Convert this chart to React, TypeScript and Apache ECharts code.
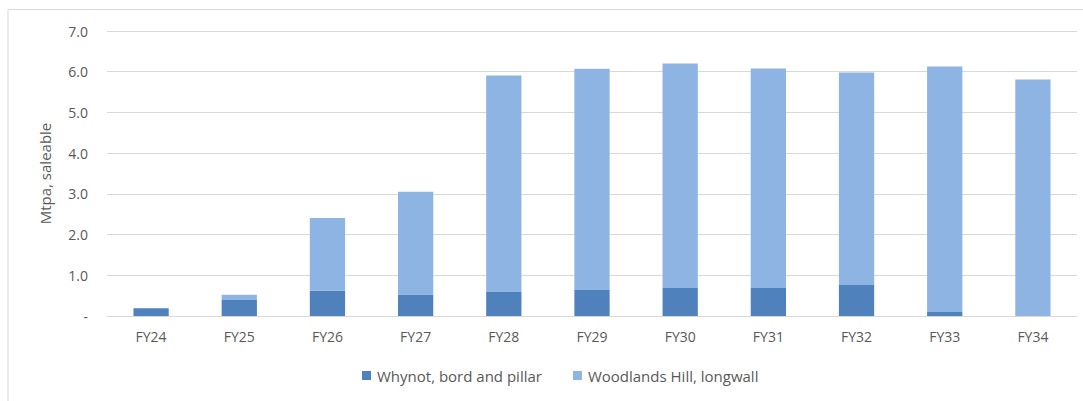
import React, { useEffect, useRef } from "react";
import * as echarts from "echarts";

const categories = ["FY24", "FY25", "FY26", "FY27", "FY28", "FY29", "FY30", "FY31", "FY32", "FY33", "FY34"];
const whynot = [0.19, 0.39, 0.62, 0.53, 0.59, 0.64, 0.69, 0.69, 0.76, 0.1, 0];
const woodlands = [0, 0.13, 1.79, 2.52, 5.32, 5.43, 5.51, 5.39, 5.22, 6.03, 5.81];
const seriesNames = ["Whynot, bord and pillar", "Woodlands Hill, longwall"];
const yAxisName = "Mtpa, saleable";

export default function App() {
  const ref = useRef<HTMLDivElement>(null);
  useEffect(() => {
    document.body.style.margin = "0";
    const chart = echarts.init(ref.current!, null, { renderer: "svg" });
    const font = "'Open Sans', 'Liberation Sans', sans-serif";
    chart.setOption({
      animation: false,
      backgroundColor: "#ffffff",
      textStyle: { fontFamily: font },
      grid: { left: 107, right: 6, top: 31, bottom: 85, containLabel: false },
      legend: {
        bottom: 13,
        left: 357,
        itemWidth: 9,
        itemHeight: 9,
        itemGap: 31,
        icon: "rect",
        textStyle: { color: "#595959", fontSize: 15, fontFamily: font, padding: [0, 0, 0, 1] },
        data: seriesNames,
      },
      xAxis: {
        type: "category",
        data: categories,
        axisLine: { lineStyle: { color: "#d9d9d9", width: 1 } },
        axisTick: { show: false },
        axisLabel: { color: "#595959", fontSize: 14, margin: 13, fontFamily: font },
      },
      yAxis: {
        type: "value",
        min: 0,
        max: 7,
        interval: 1,
        name: yAxisName,
        nameLocation: "middle",
        nameGap: 55,
        nameTextStyle: { color: "#595959", fontSize: 15, fontFamily: font },
        axisLine: { show: false },
        axisTick: { show: false },
        splitLine: { lineStyle: { color: "#d9d9d9", width: 1 } },
        axisLabel: {
          color: "#595959",
          fontSize: 14,
          margin: 19,
          fontFamily: font,
          formatter: (v: number) => (v === 0 ? "-" : v.toFixed(1)),
        },
      },
      graphic: [
        { type: "line", shape: { x1: 8, y1: 9.5, x2: 1083, y2: 9.5 }, style: { stroke: "#d9d9d9", lineWidth: 1 } },
        { type: "line", shape: { x1: 8, y1: 9.5, x2: 8, y2: 401 }, style: { stroke: "#d9d9d9", lineWidth: 1 } },
      ],
      series: [
        {
          name: seriesNames[0],
          type: "bar",
          stack: "total",
          data: whynot,
          barWidth: "40%",
          itemStyle: { color: "#4f81bd" },
        },
        {
          name: seriesNames[1],
          type: "bar",
          stack: "total",
          data: woodlands,
          barWidth: "40%",
          itemStyle: { color: "#8eb4e3" },
        },
      ],
    });
    return () => chart.dispose();
  }, []);
  return <div ref={ref} style={{ width: 1083, height: 401 }} />;
}
